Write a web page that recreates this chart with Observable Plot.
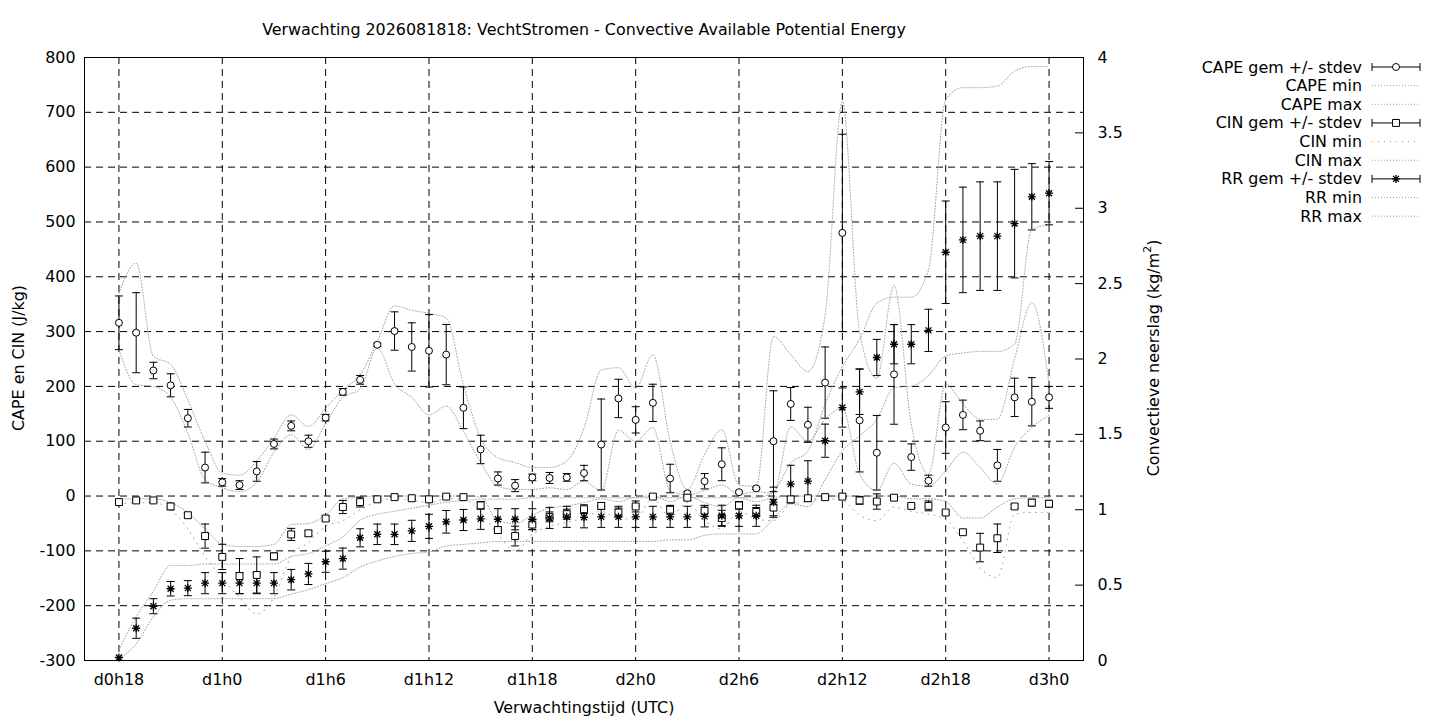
<!DOCTYPE html>
<html><head><meta charset="utf-8">
<script src="https://cdn.jsdelivr.net/npm/d3@7"></script>
<script src="https://cdn.jsdelivr.net/npm/@observablehq/plot@0.6"></script>
<style>body{margin:0;background:#fff;} svg{display:block;}</style>
</head><body><div id="chart"></div>
<script>
// ---- data (hours since d0h0) ----
const hours = [18,19,20,21,22,23,24,25,26,27,28,29,30,31,32,33,34,35,36,37,38,39,40,41,42,43,44,45,46,47,48,49,50,51,52,53,54,55,56,57,58,59,60,61,62,63,64,65,66,67,68,69,70,71,72];
const xTickHours = [18,24,30,36,42,48,54,60,66,72];
const xTickLabels = ["d0h18","d1h0","d1h6","d1h12","d1h18","d2h0","d2h6","d2h12","d2h18","d3h0"];
const yTicks = [-300,-200,-100,0,100,200,300,400,500,600,700,800];
const yTickLabels = ["-300","-200","-100","0","100","200","300","400","500","600","700","800"];
const rrTicks = [0,0.5,1,1.5,2,2.5,3,3.5,4];
const rrTickLabels = ["0","0.5","1","1.5","2","2.5","3","3.5","4"];

const capeMean = [316,298,229,202,142,52,25,20,45,95, 128,100,143,190,212,276,301,272,265,258, 161,85,32,19,34,33,34,42,94,178, 139,170,32,5,27,58,7,14,100,168, 130,207,480,138,79,222,71,28,125,148, 119,56,180,172,180];
const capeSd   = [49,73,15,21,16,28,7,8,18,9, 9,11,6,6,8,3,35,44,66,55, 38,26,12,11,6,10,7,14,83,35, 24,34,26,3,14,30,2,2,92,30, 32,65,180,94,68,91,24,10,47,27, 18,29,35,44,20];
const capeMin  = [267,203,200,180,115,30,15,8,25,80, 112,85,132,180,195,270,205,180,148,164, 118,61,18,12,12,15,12,27,10,120, 100,125,10,2,10,20,3,8,5,126, 100,140,160,40,10,60,22,18,46,80, 52,22,89,125,147];
const capeMax  = [370,425,255,240,175,100,42,38,64,106, 148,127,160,194,221,282,347,339,333,325, 203,106,70,61,52,52,64,124,230,234, 197,258,100,12,76,121,20,18,291,258, 227,330,720,300,215,384,131,40,204,168, 140,140,250,353,204];

const cinMean = [-11,-8,-8,-19,-35,-73,-111,-146,-144,-110, -70,-68,-41,-20,-11,-6,-2,-4,-6,-1, -2,-17,-62,-73,-52,-38,-33,-24,-18,-30, -19,-1,-25,-3,-27,-40,-17,-29,-21,-6, -4,-2,-1,-8,-10,-3,-18,-18,-30,-66, -94,-77,-19,-12,-14];
const cinSd   = [3,2,3,6,4,22,23,32,33,6, 11,5,4,12,9,2,1,2,3,1, 2,7,6,18,9,9,9,8,6,8, 10,1,8,5,10,14,7,8,15,5, 3,1,1,7,14,1,3,9,3,3, 26,26,4,6,6];
const cinMin  = [-15,-12,-12,-25,-60,-110,-150,-185,-215,-185, -110,-85,-55,-45,-25,-10,-5,-8,-12,-5, -6,-30,-70,-100,-70,-55,-48,-40,-28,-42, -40,-5,-38,-12,-45,-60,-28,-42,-45,-15, -10,-5,-8,-35,-45,-20,-28,-33,-43,-82, -131,-149,-33,-30,-30];
const cinMax  = [-5,-5,-5,-12,-30,-60,-88,-92,-92,-88, -52,-50,-35,-5,-2,0,0,0,0,0, 0,-2,-45,-50,-35,-22,-18,-12,-5,-10, -2,0,-10,0,-12,-20,-3,-10,-3,0, 0,0,0,0,0,0,-5,-5,-10,-40, -40,-20,-5,-3,-3];

const rrMean = [0.02,0.214,0.36,0.476,0.48,0.513,0.513,0.513,0.513,0.513, 0.536,0.574,0.655,0.676,0.814,0.837,0.837,0.86,0.89,0.92, 0.932,0.94,0.937,0.937,0.937,0.946,0.953,0.95,0.953,0.953, 0.953,0.953,0.953,0.953,0.956,0.96,0.96,0.96,1.05,1.17, 1.19,1.458,1.678,1.782,2.01,2.098,2.098,2.19,2.708,2.79, 2.815,2.815,2.898,3.076,3.1];
const rrSd   = [0,0.067,0.05,0.048,0.05,0.07,0.07,0.07,0.07,0.07, 0.068,0.07,0.07,0.07,0.06,0.068,0.068,0.07,0.08,0.075, 0.07,0.07,0.07,0.07,0.07,0.07,0.07,0.07,0.07,0.07, 0.07,0.07,0.07,0.07,0.07,0.07,0.07,0.07,0.1,0.125, 0.135,0.11,0.13,0.15,0.12,0.13,0.13,0.14,0.34,0.35, 0.36,0.36,0.36,0.22,0.21];
const rrMin  = [0.01,0.11,0.29,0.40,0.41,0.41,0.41,0.41,0.41,0.41, 0.44,0.47,0.51,0.55,0.62,0.66,0.69,0.71,0.72,0.76, 0.77,0.78,0.79,0.79,0.79,0.79,0.79,0.79,0.79,0.79, 0.79,0.79,0.80,0.80,0.83,0.84,0.84,0.84,0.94,1.04, 1.02,1.20,1.39,1.49,1.60,1.81,1.82,1.89,2.02,2.04, 2.05,2.05,2.10,2.86,2.89];
const rrMax  = [0.07,0.29,0.46,0.63,0.63,0.64,0.64,0.64,0.64,0.64, 0.69,0.71,0.76,0.82,0.93,0.97,0.99,1.01,1.03,1.05, 1.06,1.07,1.07,1.07,1.08,1.08,1.08,1.08,1.08,1.08, 1.08,1.08,1.08,1.08,1.08,1.08,1.08,1.08,1.12,1.31, 1.39,1.70,1.95,2.13,2.37,2.41,2.41,2.59,3.72,3.80, 3.80,3.81,3.91,3.94,3.94];

const titleText = "Verwachting 2026081818: VechtStromen - Convective Available Potential Energy";
const legendLabels = ["CAPE gem +/- stdev","CAPE min","CAPE max","CIN gem +/- stdev","CIN min","CIN max","RR gem +/- stdev","RR min","RR max"];
const legendKinds  = ["circle","dot","dot","square","dotsparse","dot","star","dot","dot"];

// right axis (RR, 0..4) shares the left axis (-300..800): RR 0 -> -300, RR 4 -> 800
const rrToY = v => -300 + v * 275;
const rrTickPos = rrTicks.map(rrToY);

const rows = hours.map((h, i) => ({
  h,
  cape: capeMean[i], capeLo: capeMean[i] - capeSd[i], capeHi: capeMean[i] + capeSd[i], capeMin: capeMin[i], capeMax: capeMax[i],
  cin: cinMean[i], cinLo: cinMean[i] - cinSd[i], cinHi: cinMean[i] + cinSd[i], cinMin: cinMin[i], cinMax: cinMax[i],
  rr: rrToY(rrMean[i]), rrLo: rrToY(rrMean[i] - rrSd[i]), rrHi: rrToY(rrMean[i] + rrSd[i]), rrMin: rrToY(rrMin[i]), rrMax: rrToY(rrMax[i])
}));

// custom symbols
const capSym = {draw(ctx, size) { const r = Math.sqrt(size / Math.PI); ctx.moveTo(-r, 0); ctx.lineTo(r, 0); }};
const starSym = {draw(ctx, size) { const r = Math.sqrt(size / Math.PI); const d = r * 0.75;
  ctx.moveTo(-r, 0); ctx.lineTo(r, 0); ctx.moveTo(0, -r); ctx.lineTo(0, r);
  ctx.moveTo(-d, -d); ctx.lineTo(d, d); ctx.moveTo(-d, d); ctx.lineTo(d, -d); }};

const dotted = {stroke: "#a0a0a0", strokeWidth: 1, strokeDasharray: "1,2", curve: "monotone-x"};
const gridStyle = {stroke: "black", strokeOpacity: 1, strokeWidth: 1, strokeDasharray: "7,5"};

function errMarks(lo, hi) {
  return [
    Plot.ruleX(rows, {x: "h", y1: lo, y2: hi, stroke: "black", strokeWidth: 1}),
    Plot.dot(rows, {x: "h", y: lo, symbol: capSym, r: 4, stroke: "black", strokeWidth: 1}),
    Plot.dot(rows, {x: "h", y: hi, symbol: capSym, r: 4, stroke: "black", strokeWidth: 1})
  ];
}

const FS = 15.9;
const chart = Plot.plot({
  width: 1440, height: 720,
  marginLeft: 84, marginRight: 357, marginTop: 57, marginBottom: 60,
  style: {fontFamily: "DejaVu Sans", fontSize: FS + "px", color: "black", background: "white", overflow: "visible"},
  x: {domain: [16, 74]},
  y: {domain: [-300, 800]},
  marks: [
    Plot.gridY(yTicks, gridStyle),
    Plot.gridX(xTickHours, gridStyle),
    Plot.frame({stroke: "black", strokeWidth: 1}),
    Plot.axisY(yTicks, {anchor: "left", tickSize: 0, tickPadding: 9, label: null,
      tickFormat: d => yTickLabels[yTicks.indexOf(d)]}),
    Plot.axisY(rrTickPos, {anchor: "right", tickSize: 0, tickPadding: 14, label: null,
      tickFormat: d => rrTickLabels[rrTickPos.indexOf(d)]}),
    Plot.axisY(rrTickPos, {anchor: "right", tickSize: 9, insetRight: 9, label: null, tickFormat: () => ""}),
    Plot.axisX(xTickHours, {anchor: "bottom", tickSize: 0, tickPadding: 13, label: null,
      tickFormat: d => xTickLabels[xTickHours.indexOf(d)]}),
    // min / max envelopes
    Plot.line(rows, {x: "h", y: "capeMin", ...dotted}),
    Plot.line(rows, {x: "h", y: "capeMax", ...dotted}),
    Plot.line(rows, {x: "h", y: "cinMin", ...dotted, strokeDasharray: "1,5"}),
    Plot.line(rows, {x: "h", y: "cinMax", ...dotted}),
    Plot.line(rows, {x: "h", y: "rrMin", ...dotted}),
    Plot.line(rows, {x: "h", y: "rrMax", ...dotted}),
    // error bars
    ...errMarks("capeLo", "capeHi"),
    ...errMarks("cinLo", "cinHi"),
    ...errMarks("rrLo", "rrHi"),
    // means
    Plot.dot(rows, {x: "h", y: "cape", symbol: "circle", r: 3.5, fill: "white", stroke: "black", strokeWidth: 1}),
    Plot.dot(rows, {x: "h", y: "cin", symbol: "square", r: 3.9, fill: "white", stroke: "black", strokeWidth: 1}),
    Plot.dot(rows, {x: "h", y: "rr", symbol: starSym, r: 4, stroke: "black", strokeWidth: 1.3})
  ]
});

document.getElementById("chart").appendChild(chart);

// titles, axis labels and legend as real SVG text
const svg = d3.select(chart);
const font = "DejaVu Sans";
svg.append("text").attr("x", 584).attr("y", 29).attr("text-anchor", "middle").attr("dominant-baseline", "central")
  .attr("font-family", font).attr("font-size", FS).attr("fill", "black").text(titleText);
svg.append("text").attr("x", 584).attr("y", 707).attr("text-anchor", "middle").attr("dominant-baseline", "central")
  .attr("font-family", font).attr("font-size", FS).attr("fill", "black").text("Verwachtingstijd (UTC)");
svg.append("text").attr("transform", "translate(18,358) rotate(-90)").attr("text-anchor", "middle").attr("dominant-baseline", "central")
  .attr("font-family", font).attr("font-size", FS).attr("fill", "black").text("CAPE en CIN (J/kg)");
const rl = svg.append("text").attr("transform", "translate(1153,358) rotate(-90)").attr("text-anchor", "middle").attr("dominant-baseline", "central")
  .attr("font-family", font).attr("font-size", FS).attr("fill", "black");
rl.append("tspan").text("Convectieve neerslag (kg/m");
rl.append("tspan").attr("font-size", 11).attr("dy", -6).text("2");
rl.append("tspan").attr("dy", 6).text(")");

const lg = svg.append("g");
legendLabels.forEach((lab, i) => {
  const y = 67 + i * 18.65;
  lg.append("text").attr("x", 1362).attr("y", y).attr("text-anchor", "end").attr("dominant-baseline", "central")
    .attr("font-family", font).attr("font-size", FS).attr("fill", "black").text(lab);
  const k = legendKinds[i];
  if (k === "dot" || k === "dotsparse") {
    lg.append("line").attr("x1", 1372).attr("x2", 1420).attr("y1", y).attr("y2", y)
      .attr("stroke", "#a0a0a0").attr("stroke-dasharray", k === "dot" ? "1,2" : "1,5");
  } else {
    lg.append("line").attr("x1", 1372).attr("x2", 1420).attr("y1", y).attr("y2", y).attr("stroke", "black");
    lg.append("line").attr("x1", 1372).attr("x2", 1372).attr("y1", y - 4).attr("y2", y + 4).attr("stroke", "black");
    lg.append("line").attr("x1", 1420).attr("x2", 1420).attr("y1", y - 4).attr("y2", y + 4).attr("stroke", "black");
    const type = k === "circle" ? d3.symbolCircle : k === "square" ? d3.symbolSquare : starSym;
    const r = k === "circle" ? 3.5 : k === "square" ? 3.9 : 4;
    lg.append("path").attr("transform", `translate(1396,${y})`)
      .attr("d", d3.symbol().type(type).size(Math.PI * r * r)())
      .attr("fill", k === "star" ? "none" : "white").attr("stroke", "black").attr("stroke-width", k === "star" ? 1.3 : 1);
  }
});
</script>
</body></html>
